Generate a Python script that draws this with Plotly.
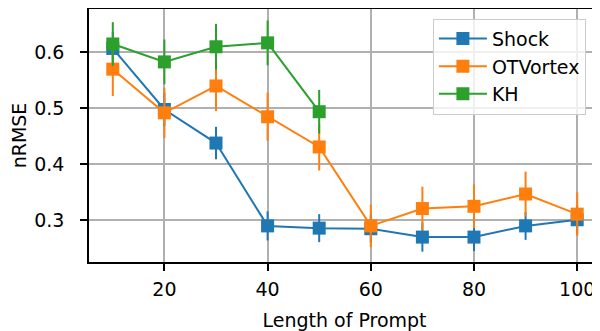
import plotly.graph_objects as go

prompt_len = [10, 20, 30, 40, 50, 60, 70, 80, 90, 100]
shock = [0.607, 0.498, 0.438, 0.290, 0.286, 0.285, 0.270, 0.270, 0.290, 0.301]
shock_err = [0.030, 0.030, 0.029, 0.026, 0.025, 0.025, 0.026, 0.025, 0.025, 0.025]
otvortex = [0.570, 0.492, 0.540, 0.485, 0.431, 0.290, 0.321, 0.325, 0.347, 0.311]
otvortex_err = [0.048, 0.045, 0.045, 0.043, 0.042, 0.038, 0.039, 0.039, 0.040, 0.039]
kh_len = [10, 20, 30, 40, 50]
kh = [0.615, 0.583, 0.610, 0.617, 0.494]
kh_err = [0.039, 0.040, 0.041, 0.040, 0.039]

series = [
    ("Shock", prompt_len, shock, shock_err, "#1f77b4"),
    ("OTVortex", prompt_len, otvortex, otvortex_err, "#ff7f0e"),
    ("KH", kh_len, kh, kh_err, "#2ca02c"),
]

fig = go.Figure()
for name, xs, ys, es, c in series:
    fig.add_trace(go.Scatter(
        x=xs, y=ys, name=name, mode="lines+markers",
        line=dict(color=c, width=2),
        marker=dict(symbol="square", size=13, color=c),
        error_y=dict(type="data", array=es, visible=True, color=c, thickness=2, width=0),
    ))

font = "DejaVu Sans"
fs = 19
fig.update_layout(
    width=592, height=323,
    margin=dict(l=81, r=0, t=1, b=69),
    paper_bgcolor="white", plot_bgcolor="white",
    font=dict(family=font, size=fs, color="black"),
    showlegend=True,
    legend=dict(
        x=0.673, y=0.962, xanchor="left", yanchor="top",
        bgcolor="rgba(255,255,255,0.8)", bordercolor="#cccccc", borderwidth=1,
        itemwidth=48,
        font=dict(family=font, size=fs),
    ),
)
fig.update_xaxes(
    range=[5.39, 104.42], tickvals=[20, 40, 60, 80, 100],
    showgrid=True, gridcolor="#b0b0b0", gridwidth=1.5,
    showline=True, linecolor="black", linewidth=1.5, mirror=True,
    ticks="outside", ticklen=7, tickcolor="black", tickwidth=1.5,
    ticklabelstandoff=2, ticklabeloverflow="allow",
    zeroline=False, automargin=False,
    title=dict(text="Length of Prompt", standoff=15, font=dict(size=fs)),
)
fig.update_yaxes(
    range=[0.2255, 0.6775], tickvals=[0.3, 0.4, 0.5, 0.6], ticktext=["0.3", "0.4", "0.5", "0.6"],
    showgrid=True, gridcolor="#b0b0b0", gridwidth=1.5,
    showline=True, linecolor="black", linewidth=1.5, mirror=True,
    ticks="outside", ticklen=7, tickcolor="black", tickwidth=1.5,
    ticklabelstandoff=12,
    zeroline=False, automargin=False,
    title=dict(text="nRMSE", standoff=8, font=dict(size=fs)),
)
fig.write_html("out.html")
